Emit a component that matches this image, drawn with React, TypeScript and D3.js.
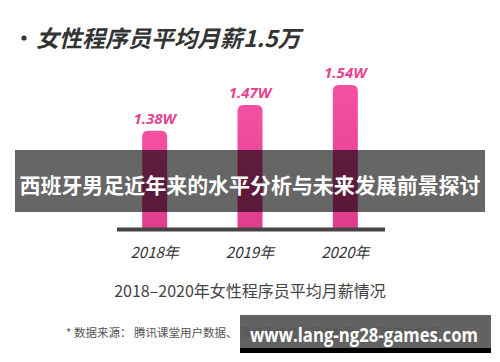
import React from "react";
import * as d3 from "d3";

const years = ["2018年", "2019年", "2020年"];
const salaries = [1.38, 1.47, 1.54];
const salaryLabels = ["1.38W", "1.47W", "1.54W"];

const title = "女性程序员平均月薪1.5万";
const subtitle = "2018–2020年女性程序员平均月薪情况";
const footnote = "* 数据来源： 腾讯课堂用户数据、 腾讯课堂问卷调研数据、 招聘用户数据";
const banner = "西班牙男足近年来的水平分析与未来发展前景探讨";
const watermark = "www.lang-ng28-games.com";

const W = 500;
const H = 362;
const CJK = "'Noto Sans CJK SC', 'Noto Sans', sans-serif";

// rounded-top bar path
const barPath = (x: number, y: number, w: number, h: number, r: number) =>
  `M${x},${y + h}V${y + r}Q${x},${y} ${x + r},${y}H${x + w - r}Q${x + w},${y} ${x + w},${y + r}V${y + h}Z`;

export default function App() {
  const baseY = 228;
  const x = d3.scalePoint<string>().domain(years).range([107, 393]).padding(0.5);
  const y = d3.scaleLinear().domain([1.04, 1.54]).range([baseY, 85]);
  const barW = 25;

  return (
    <div style={{ position: "fixed", left: 0, top: 0, width: W, height: H, background: "#fff" }}>
      <svg width={W} height={H} style={{ display: "block" }}>
        <defs>
          <linearGradient id="bar-grad" x1="0" y1="0" x2="0" y2="1">
            <stop offset="0%" stopColor="#f550a2" />
            <stop offset="100%" stopColor="#e03c8e" />
          </linearGradient>
        </defs>

        {/* title */}
        <circle cx={24} cy={38} r={2.6} fill="#333" />
        <text
          x={36}
          y={47}
          fontFamily={CJK}
          fontSize={23}
          fontWeight="bold"
          fontStyle="italic"
          fill="#333"
        >
          {title}
        </text>

        {/* bars */}
        {salaries.map((v, i) => {
          const cx = x(years[i]) as number;
          return (
            <g key={years[i]}>
              <path
                d={barPath(cx - barW / 2, y(v), barW, baseY - y(v), 6)}
                fill="url(#bar-grad)"
              />
              <text
                x={cx}
                y={y(v) - 7}
                textAnchor="middle"
                fontFamily="'Open Sans', 'Noto Sans', sans-serif"
                fontSize={15}
                fontWeight="bold"
                fontStyle="italic"
                fill="#e6428f"
              >
                {salaryLabels[i]}
              </text>
              <text
                x={cx}
                y={258}
                textAnchor="middle"
                fontFamily={CJK}
                fontSize={15}
                fontStyle="italic"
                fill="#333"
              >
                {years[i]}
              </text>
            </g>
          );
        })}

        {/* axis line */}
        <line x1={117} x2={385} y1={baseY + 1.5} y2={baseY + 1.5} stroke="#444" strokeWidth={4} />

        {/* subtitle */}
        <text x={250} y={297} textAnchor="middle" fontFamily={CJK} fontSize={16} fill="#444">
          {subtitle}
        </text>

        {/* footnote, partly hidden under the watermark */}
        <text x={66} y={337} fontFamily={CJK} fontSize={11.5} fill="#555">
          {footnote}
        </text>

        {/* overlay banner */}
        <rect x={15} y={150} width={470} height={62} fill="#000" opacity={0.6} />
        <text
          x={250}
          y={193}
          textAnchor="middle"
          fontFamily={CJK}
          fontSize={21}
          fontWeight="bold"
          fill="#fff"
          textLength={461}
          lengthAdjust="spacingAndGlyphs"
        >
          {banner}
        </text>

        {/* watermark */}
        <rect x={240} y={315} width={251} height={33} fill="#555" opacity={0.92} />
        <rect x={240} y={348} width={251} height={5} fill="#000" />
        <text
          x={250}
          y={342}
          fontFamily="'Open Sans', 'Noto Sans', sans-serif"
          fontSize={19}
          fontWeight="bold"
          fill="#fff"
          textLength={228}
          lengthAdjust="spacingAndGlyphs"
        >
          {watermark}
        </text>
      </svg>
    </div>
  );
}
